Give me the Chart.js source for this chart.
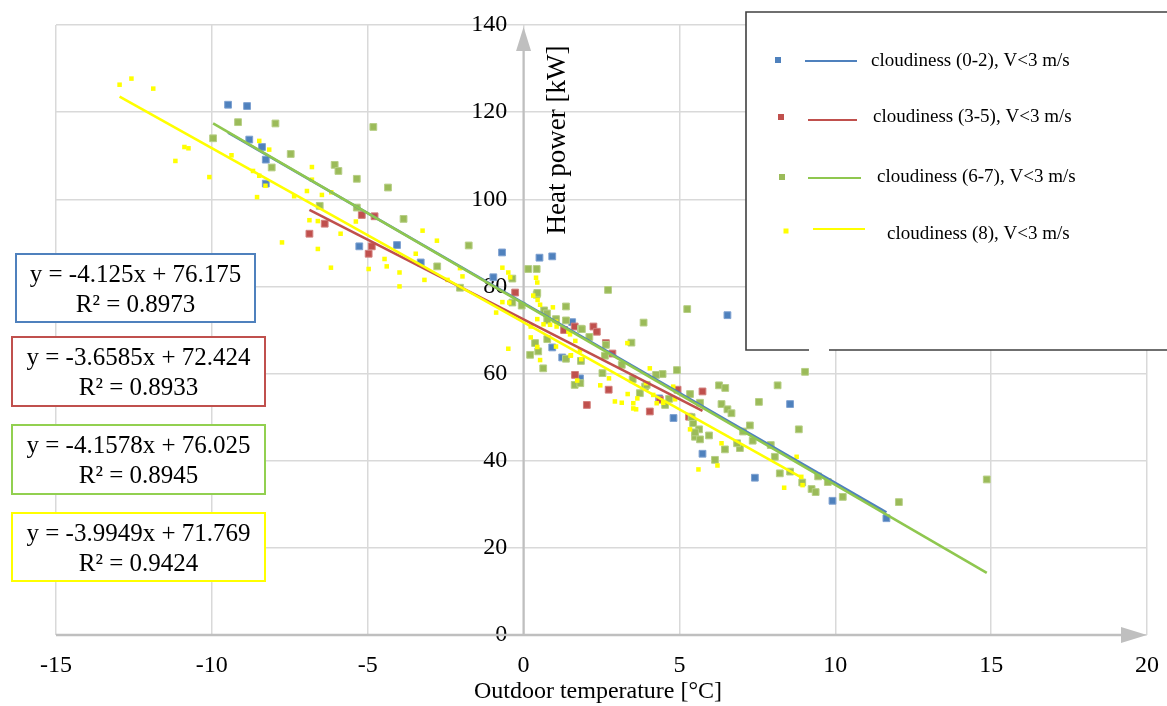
<!DOCTYPE html>
<html><head><meta charset="utf-8">
<script src="https://cdn.jsdelivr.net/npm/chart.js@4.4.0/dist/chart.umd.min.js"></script>
<style>html,body{margin:0;padding:0;background:#fff;overflow:hidden}#wrap{position:relative;width:1167px;height:706px}</style>
</head><body><div id="wrap"><canvas id="c" width="1167" height="706"></canvas></div>
<script>
// ---------- data ----------
const seriesNames = ['cloudiness (0-2), V<3 m/s','cloudiness (3-5), V<3 m/s','cloudiness (6-7), V<3 m/s','cloudiness (8), V<3 m/s'];
const xTicks = [-15,-10,-5,0,5,10,15,20];
const yTicks = [0,20,40,60,80,100,120,140];

const blueX = [-9.48,-8.87,-8.80,-8.39,-8.27,-8.27,-5.27,-4.06,-3.30,-0.97,-0.69,0.51,0.92,1.56,0.92,1.24,1.81,4.35,4.81,5.74,6.54,7.42,8.55,9.91,11.64];
const blueY = [121.7,121.4,113.7,112.0,109.1,103.6,89.2,89.5,85.5,82.1,87.8,86.6,86.9,71.8,66.0,63.7,58.9,54.3,49.8,41.6,73.4,36.1,53.0,30.8,26.8];

const redX = [-6.87,-6.38,-5.19,-4.78,-4.87,-4.97,-0.27,1.30,1.64,2.24,2.35,2.64,2.85,1.65,2.73,2.03,4.05,4.37,4.94,5.31,5.74];
const redY = [92.1,94.4,96.4,96.1,89.2,87.5,78.6,70.0,70.8,70.8,69.6,67.0,64.6,59.7,56.3,52.8,51.3,54.0,56.3,50.1,55.9];

const greenX = [-9.96,-9.16,-7.96,-7.47,-8.08,-6.06,-5.94,-6.54,-5.35,-4.35,-4.82,-5.35,-3.85,-1.76,-2.77,-2.04,-0.36,0.15,0.42,-0.06,-0.36,0.42,2.71,0.66,1.36,1.04,0.76,1.36,1.84,2.11,0.76,0.37,0.47,0.21,0.63,1.36,1.84,3.46,3.85,2.53,1.64,1.82,3.50,4.46,4.25,4.92,3.73,3.90,0.75,2.64,2.61,3.15,3.95,4.54,4.67,5.34,5.66,5.25,5.44,5.63,5.50,5.66,5.95,6.14,6.27,6.47,6.35,6.54,6.67,6.46,6.94,6.85,7.26,7.04,7.35,7.55,8.15,9.03,8.83,7.93,8.06,8.22,8.55,9.45,8.94,9.76,9.24,9.37,10.24,12.04,14.86,5.39,5.50,0.44,1.87];
const greenY = [114.0,117.7,117.4,110.4,107.3,107.9,106.5,98.5,104.7,102.7,116.6,98.1,95.5,89.4,84.6,79.7,81.8,84.0,84.0,75.6,76.3,78.1,79.2,74.5,75.4,72.5,72.2,72.2,70.3,68.4,67.9,67.0,65.1,64.3,61.2,63.4,62.9,67.1,71.7,60.1,57.4,57.8,58.7,59.9,59.7,60.8,55.5,57.0,73.8,66.6,64.1,62.0,57.4,52.8,54.2,55.3,53.3,74.8,48.6,47.2,45.5,44.9,45.8,40.2,57.3,56.7,53.0,51.8,50.9,42.6,42.9,44.0,48.1,46.7,44.6,53.5,57.3,60.4,47.2,43.6,40.9,37.1,37.5,36.4,35.0,35.1,33.5,32.8,31.7,30.5,35.7,50.0,46.5,78.5,70.2];

const yellowX = [-12.96,-12.58,-11.88,-10.88,-10.75,-11.17,-10.08,-9.37,-8.48,-8.16,-8.68,-8.48,-8.28,-8.55,-7.36,-6.95,-6.79,-6.79,-6.47,-6.17,-6.87,-6.60,-5.87,-7.75,-6.60,-6.18,-5.38,-4.97,-4.46,-4.39,-3.98,-3.98,-3.46,-3.24,-2.78,-3.18,-2.44,-1.96,-2.04,-0.68,-0.49,-0.43,-0.68,-0.88,-0.46,0.44,0.31,0.45,0.94,0.53,0.44,0.23,0.23,-0.49,0.44,1.06,1.49,1.66,1.52,1.85,1.72,2.46,2.74,2.93,3.15,3.52,3.33,4.05,3.93,4.16,4.80,0.64,0.85,1.04,1.44,0.53,1.04,1.51,1.81,3.34,3.65,3.61,3.52,4.27,4.48,4.86,5.34,6.35,6.22,5.61,8.76,8.91,8.36,8.95,0.40];
const yellowY = [126.3,127.7,125.4,112.0,111.7,108.8,105.1,110.1,113.4,111.4,106.5,105.4,103.1,100.5,100.7,101.9,107.4,104.5,101.0,101.6,95.2,95.0,92.1,90.1,88.6,84.3,94.9,84.0,86.3,84.6,83.2,80.0,87.5,92.8,90.5,81.5,81.5,82.3,84.2,84.3,83.2,82.1,76.4,74.0,76.3,80.9,77.9,76.9,75.2,75.8,72.5,70.8,68.3,65.7,66.1,70.8,69.0,67.5,64.2,63.3,58.4,57.3,58.9,53.6,53.3,53.2,67.0,61.2,57.8,55.1,57.0,71.3,71.2,71.9,69.6,63.1,66.2,64.1,65.3,55.3,54.3,51.8,52.0,53.2,53.3,54.1,47.2,44.0,38.9,38.0,40.9,36.3,33.8,34.4,82.0];

// trendline equations as printed on the chart
const trendSlope = [-4.125,-3.6585,-4.1578,-3.9949];
const trendIntercept = [76.175,72.424,76.025,71.769];
const trendR2 = ['0.8973','0.8933','0.8945','0.9424'];

// ---------- styling ----------
const markerFill = ['#4f81bd','#c0504d','#9bbb59','#ffff00'];
const markerEdge = ['#7ea1d1','#d27f7c','#b7cf86','#ffff00'];
const lineColor = ['#4f81bd','#c0504d','#8fc74f','#ffff00'];
const SERIF = "'Liberation Serif','Times New Roman',serif";

const xsAll = [blueX, redX, greenX, yellowX];
const ysAll = [blueY, redY, greenY, yellowY];
const pts = (xs, ys) => xs.map((v, i) => ({x: v, y: ys[i]}));

const datasets = [];
for (let i = 0; i < 4; i++) {
  const lo = Math.min(...xsAll[i]), hi = Math.max(...xsAll[i]);
  datasets.push({
    type: 'line', label: seriesNames[i] + ' trend',
    data: [{x: lo, y: trendSlope[i]*lo + trendIntercept[i]}, {x: hi, y: trendSlope[i]*hi + trendIntercept[i]}],
    borderColor: lineColor[i], borderWidth: 2.6, pointRadius: 0, fill: false, tension: 0,
    order: 3 - i
  });
}
for (let i = 0; i < 4; i++) {
  datasets.push({
    type: 'scatter', label: seriesNames[i],
    data: pts(xsAll[i], ysAll[i]),
    pointStyle: 'rect',
    pointRadius: i === 3 ? 3.2 : 4.8,
    pointHoverRadius: i === 3 ? 3.2 : 4.8,
    backgroundColor: markerFill[i],
    borderColor: markerEdge[i],
    borderWidth: i === 3 ? 0 : 1,
    order: 7 - i
  });
}

const eqBoxes = [
  {l: 16, t: 254, w: 239, h: 68},
  {l: 12, t: 337, w: 253, h: 69},
  {l: 12, t: 425, w: 253, h: 69},
  {l: 12, t: 513, w: 253, h: 68}
];
const eqBorder = ['#4f81bd','#c0504d','#92d050','#ffff00'];
const legendItems = [
  {mx: 778, my: 60, l1: 805, l2: 857, ly: 61, tx: 871, ty: 61},
  {mx: 781, my: 117, l1: 808, l2: 857, ly: 120, tx: 873, ty: 117},
  {mx: 782, my: 177, l1: 808, l2: 861, ly: 178, tx: 877, ty: 177},
  {mx: 786, my: 231, l1: 813, l2: 865, ly: 229, tx: 887, ty: 234}
];

const deco = {
  id: 'deco',
  beforeDatasetsDraw(chart) {
    const {ctx, scales: {x, y}} = chart;
    const x0 = x.getPixelForValue(0), y0 = y.getPixelForValue(0);
    ctx.save();
    ctx.strokeStyle = '#bfbfbf'; ctx.fillStyle = '#bfbfbf';
    ctx.lineWidth = 2.6;
    ctx.beginPath(); ctx.moveTo(x.left, y0); ctx.lineTo(x.right - 22, y0); ctx.stroke();
    ctx.beginPath(); ctx.moveTo(x.right, y0); ctx.lineTo(x.right - 26, y0 - 8); ctx.lineTo(x.right - 26, y0 + 8); ctx.closePath(); ctx.fill();
    ctx.lineWidth = 2.2;
    ctx.beginPath(); ctx.moveTo(x0, y.bottom); ctx.lineTo(x0, y.top + 22); ctx.stroke();
    ctx.beginPath(); ctx.moveTo(x0, y.top + 2); ctx.lineTo(x0 - 7.5, y.top + 26); ctx.lineTo(x0 + 7.5, y.top + 26); ctx.closePath(); ctx.fill();
    ctx.restore();
  },
  afterDraw(chart) {
    const {ctx} = chart;
    ctx.save();
    ctx.fillStyle = '#000';
    ctx.font = '24px ' + SERIF;
    ctx.textAlign = 'center'; ctx.textBaseline = 'middle';
    ctx.fillText('Outdoor temperature [°C]', 598, 692);
    ctx.save();
    ctx.translate(558, 140); ctx.rotate(-Math.PI / 2);
    ctx.font = '27px ' + SERIF;
    ctx.fillText('Heat power [kW]', 0, 0);
    ctx.restore();

    // legend box
    ctx.fillStyle = '#fff';
    ctx.fillRect(746, 12, 430, 338);
    ctx.strokeStyle = '#404040'; ctx.lineWidth = 1.6;
    ctx.beginPath();
    ctx.moveTo(809, 350); ctx.lineTo(746, 350); ctx.lineTo(746, 12); ctx.lineTo(1170, 12);
    ctx.moveTo(829, 350); ctx.lineTo(1170, 350);
    ctx.stroke();
    legendItems.forEach((it, i) => {
      const s = i === 3 ? 5 : 6;
      ctx.fillStyle = markerFill[i];
      ctx.fillRect(it.mx - s / 2, it.my - s / 2, s, s);
      ctx.strokeStyle = lineColor[i]; ctx.lineWidth = 2.2;
      ctx.beginPath(); ctx.moveTo(it.l1, it.ly); ctx.lineTo(it.l2, it.ly); ctx.stroke();
      ctx.fillStyle = '#000';
      ctx.font = '19px ' + SERIF;
      ctx.textAlign = 'left'; ctx.textBaseline = 'middle';
      ctx.fillText(seriesNames[i], it.tx, it.ty);
    });

    // equation boxes
    eqBoxes.forEach((b, i) => {
      ctx.fillStyle = '#fff';
      ctx.fillRect(b.l, b.t, b.w, b.h);
      ctx.strokeStyle = eqBorder[i]; ctx.lineWidth = 2;
      ctx.strokeRect(b.l, b.t, b.w, b.h);
      ctx.fillStyle = '#000';
      ctx.font = '25px ' + SERIF;
      ctx.textAlign = 'center'; ctx.textBaseline = 'middle';
      const eq = 'y = ' + trendSlope[i] + 'x + ' + trendIntercept[i].toFixed(3);
      ctx.fillText(eq, b.l + b.w / 2, b.t + 21);
      ctx.fillText('R² = ' + trendR2[i], b.l + b.w / 2, b.t + 51);
    });
    ctx.restore();
  }
};

const noEdgePadding = s => { s.paddingLeft = 0; s.paddingRight = 0; s.paddingTop = 0; s.paddingBottom = 0; };

new Chart(document.getElementById('c'), {
  type: 'scatter',
  data: {datasets},
  options: {
    responsive: false, animation: false, devicePixelRatio: 1,
    layout: {padding: {left: 56, top: 25, right: 20, bottom: 71}},
    plugins: {legend: {display: false}, tooltip: {enabled: false}},
    scales: {
      x: {
        type: 'linear', min: -15, max: 20, position: {y: 0},
        afterBuildTicks: s => { s.ticks = xTicks.map(v => ({value: v})); },
        afterFit: noEdgePadding,
        grid: {color: '#d9d9d9', lineWidth: 1.5, drawTicks: false},
        border: {display: false},
        ticks: {font: {family: SERIF, size: 24}, color: '#000', padding: 16, maxRotation: 0, autoSkip: false}
      },
      y: {
        type: 'linear', min: 0, max: 140, position: {x: -0.52},
        afterBuildTicks: s => { s.ticks = yTicks.map(v => ({value: v})); },
        afterFit: noEdgePadding,
        grid: {color: '#d9d9d9', lineWidth: 1.5, drawTicks: false},
        border: {display: false},
        ticks: {font: {family: SERIF, size: 24}, color: '#000', padding: 18, autoSkip: false}
      }
    }
  },
  plugins: [deco]
});
</script>
</body></html>
